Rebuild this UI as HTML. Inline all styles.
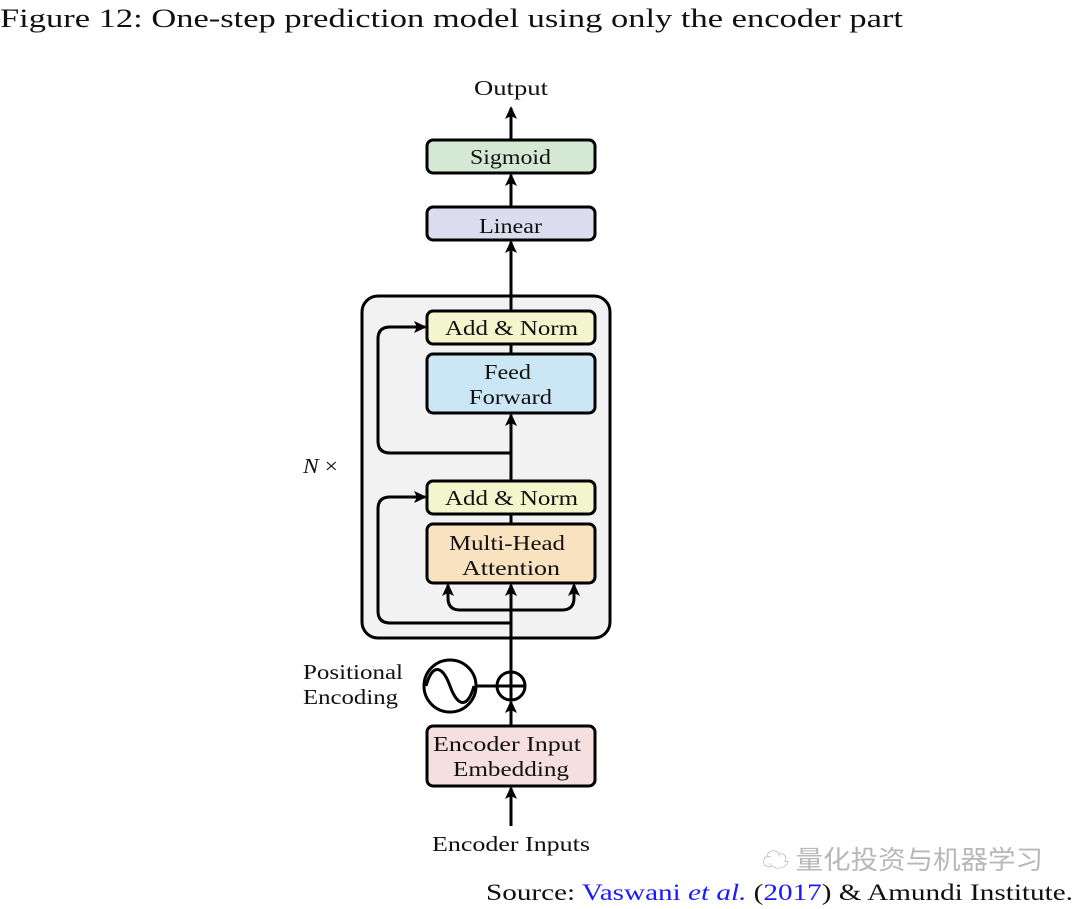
<!DOCTYPE html>
<html><head><meta charset="utf-8"><style>
html,body{margin:0;padding:0;background:#fff;}
svg{display:block;}
text{font-family:"Liberation Serif","DejaVu Serif",serif;fill:#111;}
</style></head><body>
<svg width="1080" height="909" viewBox="0 0 1080 909" xmlns="http://www.w3.org/2000/svg">
<defs>
<marker id="a" markerWidth="14" markerHeight="12" refX="11" refY="6" orient="auto" markerUnits="userSpaceOnUse">
<path d="M0,0 L13,6 L0,12 L3,6 Z" fill="#000"/>
</marker>
</defs>
<text x="0" y="27" font-size="26" textLength="903" lengthAdjust="spacingAndGlyphs">Figure 12: One-step prediction model using only the encoder part</text>
<text x="474" y="95" font-size="21" textLength="74" lengthAdjust="spacingAndGlyphs">Output</text>
<g stroke="#000" stroke-width="3" fill="none">
<line x1="511" y1="139" x2="511" y2="108" marker-end="url(#a)"/>
<line x1="511" y1="206" x2="511" y2="175" marker-end="url(#a)"/>
<line x1="511" y1="296" x2="511" y2="242" marker-end="url(#a)"/>
</g>
<rect x="427" y="140" width="168" height="33" rx="6" fill="#d4e8d3" stroke="#000" stroke-width="3"/>
<text x="470" y="164" font-size="21" textLength="81" lengthAdjust="spacingAndGlyphs">Sigmoid</text>
<rect x="427" y="207" width="168" height="33" rx="6" fill="#dcdcee" stroke="#000" stroke-width="3"/>
<text x="479" y="233" font-size="21" textLength="63" lengthAdjust="spacingAndGlyphs">Linear</text>

<rect x="362" y="296" width="248" height="342" rx="16" fill="#f2f2f2" stroke="#000" stroke-width="3"/>
<g stroke="#000" stroke-width="3" fill="none">
<line x1="511" y1="296" x2="511" y2="311"/>
<line x1="511" y1="344" x2="511" y2="354"/>
<line x1="511" y1="481" x2="511" y2="415" marker-end="url(#a)"/>
<line x1="511" y1="514" x2="511" y2="524"/>
<path d="M511,453 H390 Q378,453 378,441 V339 Q378,327 390,327 H425" marker-end="url(#a)"/>
<path d="M511,623 H390 Q378,623 378,611 V509 Q378,497 390,497 H425" marker-end="url(#a)"/>
<line x1="511" y1="700" x2="511" y2="585" marker-end="url(#a)"/>
<path d="M511,610 H460 Q448,610 448,598 V585" marker-end="url(#a)"/>
<path d="M511,610 H562 Q574,610 574,598 V585" marker-end="url(#a)"/>
<line x1="511" y1="726" x2="511" y2="702" marker-end="url(#a)"/>
<line x1="511" y1="826" x2="511" y2="788" marker-end="url(#a)"/>
<line x1="476" y1="686" x2="497" y2="686"/>
<circle cx="511" cy="686" r="14"/>
<line x1="497" y1="686" x2="525" y2="686"/>
<circle cx="450" cy="686" r="26"/>
<path d="M426,686 C432,664 442,664 450,686 C458,708 468,708 474,686"/>
</g>
<rect x="427" y="311" width="168" height="33" rx="6" fill="#f3f5cc" stroke="#000" stroke-width="3"/>
<text x="445" y="335" font-size="21" textLength="133" lengthAdjust="spacingAndGlyphs">Add &amp; Norm</text>
<rect x="427" y="354" width="168" height="59" rx="6" fill="#cbe6f4" stroke="#000" stroke-width="3"/>
<text x="484" y="379" font-size="21" textLength="47" lengthAdjust="spacingAndGlyphs">Feed</text>
<text x="469" y="404" font-size="21" textLength="83" lengthAdjust="spacingAndGlyphs">Forward</text>
<rect x="427" y="481" width="168" height="33" rx="6" fill="#f3f5cc" stroke="#000" stroke-width="3"/>
<text x="445" y="505" font-size="21" textLength="133" lengthAdjust="spacingAndGlyphs">Add &amp; Norm</text>
<rect x="427" y="524" width="168" height="59" rx="6" fill="#f8e2bf" stroke="#000" stroke-width="3"/>
<text x="449" y="550" font-size="21" textLength="116" lengthAdjust="spacingAndGlyphs">Multi-Head</text>
<text x="462" y="575" font-size="21" textLength="98" lengthAdjust="spacingAndGlyphs">Attention</text>
<text x="303" y="473" font-size="21" font-style="italic" textLength="35" lengthAdjust="spacingAndGlyphs">N<tspan font-style="normal"> ×</tspan></text>
<text x="303" y="679" font-size="21" textLength="100" lengthAdjust="spacingAndGlyphs">Positional</text>
<text x="303" y="704" font-size="21" textLength="95" lengthAdjust="spacingAndGlyphs">Encoding</text>
<rect x="427" y="726" width="168" height="60" rx="6" fill="#f5dfdf" stroke="#000" stroke-width="3"/>
<text x="433" y="751" font-size="21" textLength="148" lengthAdjust="spacingAndGlyphs">Encoder Input</text>
<text x="453" y="776" font-size="21" textLength="116" lengthAdjust="spacingAndGlyphs">Embedding</text>
<text x="432" y="851" font-size="21" textLength="158" lengthAdjust="spacingAndGlyphs">Encoder Inputs</text>
<text x="762" y="869" font-size="26" style="fill:#b8b8b8;font-family:'Noto Sans CJK SC',sans-serif" textLength="281" lengthAdjust="spacingAndGlyphs">☁ 量化投资与机器学习</text>
<text x="486" y="900" font-size="23" textLength="587" lengthAdjust="spacingAndGlyphs">Source: <tspan style="fill:#1a1aff">Vaswani <tspan font-style="italic">et al.</tspan></tspan> (<tspan style="fill:#1a1aff">2017</tspan>) &amp; Amundi Institute.</text>
</svg>
</body></html>
